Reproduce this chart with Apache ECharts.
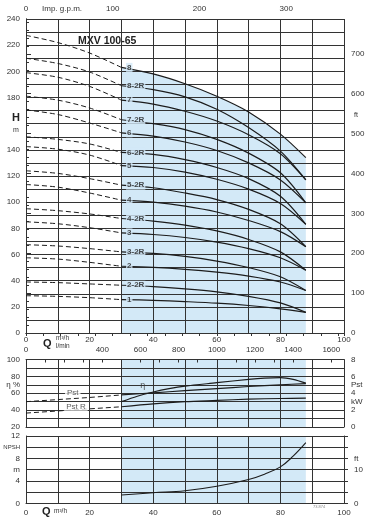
<!DOCTYPE html>
<html>
<head>
<meta charset="utf-8">
<script src="https://cdn.jsdelivr.net/npm/echarts@6/dist/echarts.min.js"></script>
<style>
  html, body { margin: 0; padding: 0; background: #fff; }
  #chart { width: 376px; height: 521px; }
</style>
</head>
<body>
<div id="chart"></div>
<script>
// curve names, top to bottom
const curveNames = ["8", "8-2R", "7", "7-2R", "6", "6-2R", "5", "5-2R", "4", "4-2R", "3", "3-2R", "2", "2-2R", "1"];

// flow points (m3/h)
const qDash = [0, 10, 20, 30];
const qSolid = [30, 40, 50, 60, 70, 80, 88];

// head H (m) on the dashed part, Q = 0..30
const headDash = [
  [227.5, 222, 214, 203],
  [210, 206, 199.5, 189],
  [199, 195.5, 188.5, 178],
  [181, 178, 172, 163],
  [170.5, 167, 160.5, 153],
  [150, 148, 144.5, 138],
  [142.5, 140.5, 136, 128],
  [124, 122, 118, 113],
  [113.5, 111.5, 107, 101.5],
  [95, 93.5, 91, 87.5],
  [85, 83.5, 80.5, 76.5],
  [67.5, 66.5, 64.5, 62],
  [57.5, 56.5, 54, 51],
  [39, 38.5, 37.5, 36.5],
  [28.5, 28, 27, 25.5]
];

// head H (m) on the solid part, Q = 30..88
const headSolid = [
  [203, 198, 190.5, 181, 169, 152, 134],
  [189, 186, 180.5, 171, 157, 139, 117],
  [178, 175, 169.5, 162, 151.5, 137, 117],
  [163, 160, 155.5, 148, 137.5, 122.5, 99.5],
  [153, 150.5, 146, 139.5, 130, 117, 99.5],
  [138, 136.5, 132.5, 126.5, 118, 104.5, 83],
  [128, 126.5, 123, 117.5, 110, 99, 83],
  [113, 111, 107, 102, 94.5, 83.5, 66],
  [101.5, 100, 97, 92.5, 86, 77.5, 66],
  [87.5, 85.5, 82.5, 78, 71.5, 62, 48],
  [76.5, 75.3, 73, 69.5, 64.5, 57.5, 48],
  [62, 60.8, 58.5, 55, 50, 43, 32.5],
  [51, 50.2, 48.7, 46.5, 43.5, 39, 32.5],
  [36.5, 35.5, 33.8, 31.5, 28, 23, 15.8],
  [25.5, 25, 24, 22.8, 21, 18.5, 15.8]
];
const labelQ = 31.3;

// efficiency (%)
const qEff = [30, 35, 40, 45, 50, 60, 70, 75, 80, 84, 88];
const eta = [50, 56.5, 61.5, 65.5, 68.5, 72.5, 76.5, 78, 78.5, 76.5, 72];

// power (kW)
const pstDash = [3.0, 3.25, 3.5, 3.8];
const pstSolid = [3.8, 4.05, 4.3, 4.55, 4.8, 5.0, 5.15];
const pstRDash = [1.65, 1.9, 2.15, 2.4];
const pstRSolid = [2.4, 2.75, 3.0, 3.15, 3.3, 3.38, 3.42];

// NPSH (m)
const qNpsh = [30, 40, 50, 60, 70, 75, 80, 84, 88];
const npsh = [1.47, 1.88, 2.25, 3.05, 4.25, 5.2, 6.5, 8.4, 10.8];

// working range
const shadeQ = [30, 88];

// unit conversions for the secondary axes
const gpmMax = 100 * 1000 / 4.54609 / 60;
const lminMax = 100 * 1000 / 60;
const ftMax = 240 * 3.28084;

const FONT = "Liberation Sans, Arial, sans-serif";
const INK = "#1c1c1c";
const GRIDC = "#333";
const BLUE = "#d3e9f7";

const pair = (xs, ys) => xs.map((x, i) => [x, ys[i]]);
const lab = { fontSize: 8, color: "#333", fontFamily: FONT };
const aLine = { show: true, lineStyle: { color: GRIDC, width: 1 } };
const split = { show: true, lineStyle: { color: GRIDC, width: 1 } };
const pick = map => v => (map[v] !== undefined ? map[v] : "");

const series = [];

// blue working area under curve 8
series.push({
  type: "line", xAxisIndex: 0, yAxisIndex: 0, z: 1, silent: true,
  symbol: "none", smooth: 0.3, data: pair(qSolid, headSolid[0]),
  lineStyle: { width: 0 }, areaStyle: { color: BLUE, opacity: 1 }
});

curveNames.forEach((n, i) => {
  series.push({
    type: "line", xAxisIndex: 0, yAxisIndex: 0, z: 4, silent: true,
    symbol: "none", smooth: 0.3, data: pair(qDash, headDash[i]),
    lineStyle: { color: INK, width: 1, type: [5, 3] }
  });
  series.push({
    type: "line", xAxisIndex: 0, yAxisIndex: 0, z: 4, silent: true,
    symbol: "none", smooth: 0.3, data: pair(qSolid, headSolid[i]),
    lineStyle: { color: INK, width: 1.2 }
  });
});

series.push({
  type: "scatter", xAxisIndex: 0, yAxisIndex: 0, z: 6, silent: true,
  symbolSize: 1, itemStyle: { color: "rgba(0,0,0,0)" },
  data: curveNames.map((n, i) => ({ name: n, value: [labelQ, headSolid[i][0]] })),
  label: {
    show: true, position: "right", distance: 0, formatter: "{b}",
    fontSize: 8, fontWeight: "bold", color: "#222", fontFamily: FONT,
    backgroundColor: BLUE, padding: [1, 1, 0, 1]
  }
});

// efficiency panel
series.push({
  type: "line", xAxisIndex: 2, yAxisIndex: 2, z: 1, silent: true, symbol: "none",
  data: pair(shadeQ, [100, 100]), lineStyle: { width: 0 },
  areaStyle: { color: BLUE, opacity: 1 }
});
series.push({
  type: "line", xAxisIndex: 2, yAxisIndex: 2, z: 4, silent: true, symbol: "none",
  smooth: 0.3, data: pair(qEff, eta), lineStyle: { color: INK, width: 1.2 }
});
series.push({
  type: "line", xAxisIndex: 2, yAxisIndex: 3, z: 4, silent: true, symbol: "none",
  data: pair(qDash, pstDash), lineStyle: { color: INK, width: 1, type: [5, 3] }
});
series.push({
  type: "line", xAxisIndex: 2, yAxisIndex: 3, z: 4, silent: true, symbol: "none",
  smooth: 0.3, data: pair(qSolid, pstSolid), lineStyle: { color: INK, width: 1.2 }
});
series.push({
  type: "line", xAxisIndex: 2, yAxisIndex: 3, z: 4, silent: true, symbol: "none",
  data: pair(qDash, pstRDash), lineStyle: { color: INK, width: 1, type: [5, 3] }
});
series.push({
  type: "line", xAxisIndex: 2, yAxisIndex: 3, z: 4, silent: true, symbol: "none",
  smooth: 0.3, data: pair(qSolid, pstRSolid), lineStyle: { color: INK, width: 1.2 }
});
series.push({
  type: "scatter", xAxisIndex: 2, yAxisIndex: 2, z: 6, silent: true,
  symbolSize: 1, itemStyle: { color: "rgba(0,0,0,0)" },
  data: [
    { name: "Pst", value: [14.7, 60] },
    { name: "Pst R", value: [15.7, 44] },
    { name: "η", value: [36.7, 69], label: { backgroundColor: "transparent", fontSize: 9 } }
  ],
  label: {
    show: true, position: "inside", formatter: "{b}", fontSize: 8,
    color: "#333", fontFamily: FONT, backgroundColor: "#fff", padding: [0, 2]
  }
});

// NPSH panel
series.push({
  type: "line", xAxisIndex: 4, yAxisIndex: 4, z: 1, silent: true, symbol: "none",
  data: pair(shadeQ, [12, 12]), lineStyle: { width: 0 },
  areaStyle: { color: BLUE, opacity: 1 }
});
series.push({
  type: "line", xAxisIndex: 4, yAxisIndex: 4, z: 4, silent: true, symbol: "none",
  smooth: 0.4, data: pair(qNpsh, npsh), lineStyle: { color: INK, width: 1.1 }
});

const chart = echarts.init(document.getElementById("chart"));
chart.setOption({
  animation: false,
  backgroundColor: "#fff",
  textStyle: { fontFamily: FONT },
  grid: [
    { left: 26, right: 32, top: 19, bottom: 188 },
    { left: 26, right: 32, top: 359.5, bottom: 94 },
    { left: 26, right: 32, top: 436, bottom: 17.7 }
  ],
  xAxis: [
    { gridIndex: 0, type: "value", position: "bottom", min: 0, max: 100, interval: 10, z: 3,
      axisLine: aLine, axisTick: { show: false }, splitLine: split,
      axisLabel: { ...lab, margin: 3, formatter: v => (v % 20 === 0 ? v : "") } },
    { gridIndex: 0, type: "value", position: "top", min: 0, max: gpmMax, interval: 20, z: 3,
      axisLine: aLine, splitLine: { show: false },
      axisTick: { show: true, inside: true, length: 3, lineStyle: { color: GRIDC } },
      axisLabel: { ...lab, margin: 6, formatter: v => (v % 100 === 0 ? v : "") } },
    { gridIndex: 1, type: "value", position: "bottom", min: 0, max: 100, interval: 10, z: 3,
      axisLine: aLine, axisTick: { show: false }, splitLine: split, axisLabel: { show: false } },
    { gridIndex: 1, type: "value", position: "top", min: 0, max: lminMax, interval: 100, z: 3,
      axisLine: aLine, splitLine: { show: false },
      axisTick: { show: true, inside: true, length: 3, lineStyle: { color: GRIDC } },
      axisLabel: { ...lab, margin: 6, formatter: v => (v % 200 === 0 && v !== 200 ? v : "") } },
    { gridIndex: 2, type: "value", position: "bottom", min: 0, max: 100, interval: 10, z: 3,
      axisLine: aLine, axisTick: { show: false }, splitLine: split,
      axisLabel: { ...lab, margin: 5, formatter: v => (v % 20 === 0 ? v : "") } }
  ],
  yAxis: [
    { gridIndex: 0, type: "value", position: "left", min: 0, max: 240, interval: 10, z: 3,
      axisLine: aLine, axisTick: { show: false }, splitLine: split,
      axisLabel: { ...lab, margin: 6, formatter: v => (v % 20 === 0 && v !== 160 ? v : "") } },
    { gridIndex: 0, type: "value", position: "right", min: 0, max: ftMax, interval: 100, z: 3,
      axisLine: aLine, splitLine: { show: false },
      axisTick: { show: true, length: 5, lineStyle: { color: GRIDC } },
      minorTick: { show: true, splitNumber: 5, length: 3, lineStyle: { color: GRIDC } },
      axisLabel: { ...lab, margin: 7, formatter: v => (v % 100 === 0 ? v : "") } },
    { gridIndex: 1, type: "value", position: "left", min: 20, max: 100, interval: 10, z: 3,
      axisLine: aLine, axisTick: { show: false }, splitLine: split,
      axisLabel: { ...lab, margin: 6,
        formatter: pick({ 100: "100", 80: "80", 70: "η %", 60: "60", 40: "40", 20: "20" }) } },
    { gridIndex: 1, type: "value", position: "right", min: 0, max: 8, interval: 1, z: 3,
      axisLine: aLine, axisTick: { show: false }, splitLine: { show: false },
      axisLabel: { ...lab, margin: 7,
        formatter: pick({ 8: "8", 6: "6", 5: "Pst", 4: "4", 3: "kW", 2: "2", 0: "0" }) } },
    { gridIndex: 2, type: "value", position: "left", min: 0, max: 12, interval: 2, z: 3,
      axisLine: aLine, axisTick: { show: false }, splitLine: split,
      axisLabel: { ...lab, margin: 6,
        formatter: pick({ 12: "12", 10: "{s|NPSH}", 8: "8", 6: "m", 4: "4", 0: "0" }),
        rich: { s: { fontSize: 6, color: "#333", fontFamily: FONT } } } },
    { gridIndex: 2, type: "value", position: "right", min: 0, max: 12, interval: 2, z: 3,
      axisLine: aLine, splitLine: { show: false },
      axisTick: { show: true, length: 4, lineStyle: { color: GRIDC } },
      axisLabel: { ...lab, margin: 10, formatter: pick({ 8: "ft", 6: "10", 0: "0" }) } }
  ],
  graphic: [
    { type: "text", left: 42, top: 5, style: { text: "Imp. g.p.m.", fontSize: 8, fill: "#333", fontFamily: FONT } },
    { type: "text", left: 78, top: 36, style: { text: "MXV 100-65", fontSize: 10.5, fontWeight: "bold", fill: "#222", fontFamily: FONT } },
    { type: "text", left: 12, top: 112, style: { text: "H", fontSize: 11, fontWeight: "bold", fill: "#222", fontFamily: FONT } },
    { type: "text", left: 13, top: 127, style: { text: "m", fontSize: 7, fill: "#333", fontFamily: FONT } },
    { type: "text", left: 354, top: 112, style: { text: "ft", fontSize: 7, fill: "#333", fontFamily: FONT } },
    { type: "text", left: 43, top: 338, style: { text: "Q", fontSize: 11, fontWeight: "bold", fill: "#222", fontFamily: FONT } },
    { type: "text", left: 56, top: 335, style: { text: "m\u00b3/h", fontSize: 6.5, fill: "#333", fontFamily: FONT } },
    { type: "text", left: 56, top: 342.5, style: { text: "l/min", fontSize: 6.5, fill: "#333", fontFamily: FONT } },
    { type: "text", left: 42, top: 506, style: { text: "Q", fontSize: 11, fontWeight: "bold", fill: "#222", fontFamily: FONT } },
    { type: "text", left: 54, top: 508, style: { text: "m\u00b3/h", fontSize: 6.5, fill: "#333", fontFamily: FONT } },
    { type: "text", left: 313, top: 505, style: { text: "73.874", fontSize: 4, fill: "#888", fontFamily: FONT } }
  ],
  series: series
});
</script>
</body>
</html>
